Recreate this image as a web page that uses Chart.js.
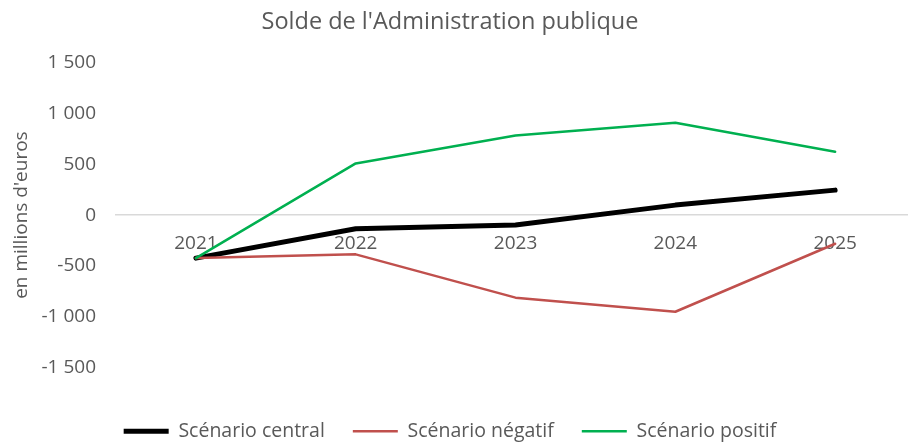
<!DOCTYPE html>
<html lang="fr">
<head>
    <meta charset="UTF-8">
    <title>Solde de l'Administration publique</title>
    <script src="https://cdn.jsdelivr.net/npm/chart.js"></script>
    <style>
        body { margin: 0; background: #fff; }
        #wrap { width: 908px; height: 443px; }
    </style>
</head>
<body>
    <div id="wrap"><canvas id="soldeChart"></canvas></div>

    <script>
        // Valeurs (en millions d'euros)
        const years = ['2021', '2022', '2023', '2024', '2025'];
        const central = [-422, -134, -98, 98, 245];
        const negatif = [-422, -385, -810, -948, -281];
        const positif = [-422, 507, 781, 905, 621];
        const seriesNames = ['Scénario central', 'Scénario négatif', 'Scénario positif'];
        const yTicks = [-1500, -1000, -500, 0, 500, 1000, 1500];

        const grey = '#595959';
        const font = 'Open Sans';

        // 1500 -> "1 500"
        function fmt(v) {
            const s = String(Math.abs(v)).replace(/\B(?=(\d{3})+(?!\d))/g, ' ');
            return (v < 0 ? '-' : '') + s;
        }

        const ctx = document.getElementById('soldeChart').getContext('2d');

        const soldeChart = new Chart(ctx, {
            type: 'line',
            data: {
                labels: years,
                datasets: [{
                    label: seriesNames[0],
                    data: central,
                    borderColor: '#000000',
                    backgroundColor: '#000000',
                    borderWidth: 5,
                    order: 3
                }, {
                    label: seriesNames[1],
                    data: negatif,
                    borderColor: '#C0504D',
                    backgroundColor: '#C0504D',
                    borderWidth: 2.5,
                    order: 2
                }, {
                    label: seriesNames[2],
                    data: positif,
                    borderColor: '#00B050',
                    backgroundColor: '#00B050',
                    borderWidth: 2.5,
                    order: 1
                }]
            },
            options: {
                responsive: true,
                maintainAspectRatio: false,
                animation: false,
                elements: {
                    point: { radius: 0, hoverRadius: 0 },
                    line: { tension: 0, borderJoinStyle: 'round', borderCapStyle: 'round' }
                },
                layout: {
                    padding: { left: -8, right: 0, top: 0, bottom: -8 }
                },
                scales: {
                    x: {
                        type: 'linear',
                        // half a year on the left, the plot runs a bit past the right edge
                        min: 2020.5,
                        max: 2025.456,
                        position: { y: 0 },
                        grid: { display: true, color: 'transparent', drawTicks: false },
                        border: { display: true, color: '#D9D9D9', width: 1.5 },
                        afterBuildTicks: (scale) => {
                            scale.ticks = years.map(y => ({ value: +y }));
                        },
                        ticks: {
                            color: grey,
                            font: { family: font, size: 19 },
                            padding: 17,
                            maxRotation: 0,
                            callback: (v) => String(v)
                        }
                    },
                    y: {
                        min: -1500,
                        max: 1500,
                        grid: { display: false, drawTicks: false },
                        border: { display: false },
                        afterBuildTicks: (scale) => {
                            scale.ticks = yTicks.map(v => ({ value: v }));
                        },
                        ticks: {
                            color: grey,
                            font: { family: font, size: 19 },
                            padding: 20,
                            callback: (v) => fmt(v)
                        },
                        title: {
                            display: true,
                            text: "en millions d'euros",
                            color: grey,
                            font: { family: font, size: 19 },
                            padding: { top: 18, bottom: 0 }
                        },
                        afterFit: (scale) => { scale.width = 124; }
                    }
                },
                plugins: {
                    title: {
                        display: true,
                        text: "Solde de l'Administration publique",
                        color: grey,
                        font: { family: font, size: 23.5, weight: 'normal' },
                        padding: { top: 8, bottom: 26 }
                    },
                    legend: {
                        position: 'bottom',
                        // empty title only keeps the gap between plot and legend
                        title: {
                            display: true,
                            text: '',
                            font: { size: 10 },
                            padding: { top: 13.5, bottom: 0 }
                        },
                        labels: {
                            color: grey,
                            font: { family: font, size: 19.5 },
                            usePointStyle: true,
                            pointStyle: 'line',
                            pointStyleWidth: 45,
                            padding: 28,
                            sort: (a, b) => a.datasetIndex - b.datasetIndex
                        }
                    },
                    tooltip: { enabled: false }
                }
            }
        });
    </script>
</body>
</html>
